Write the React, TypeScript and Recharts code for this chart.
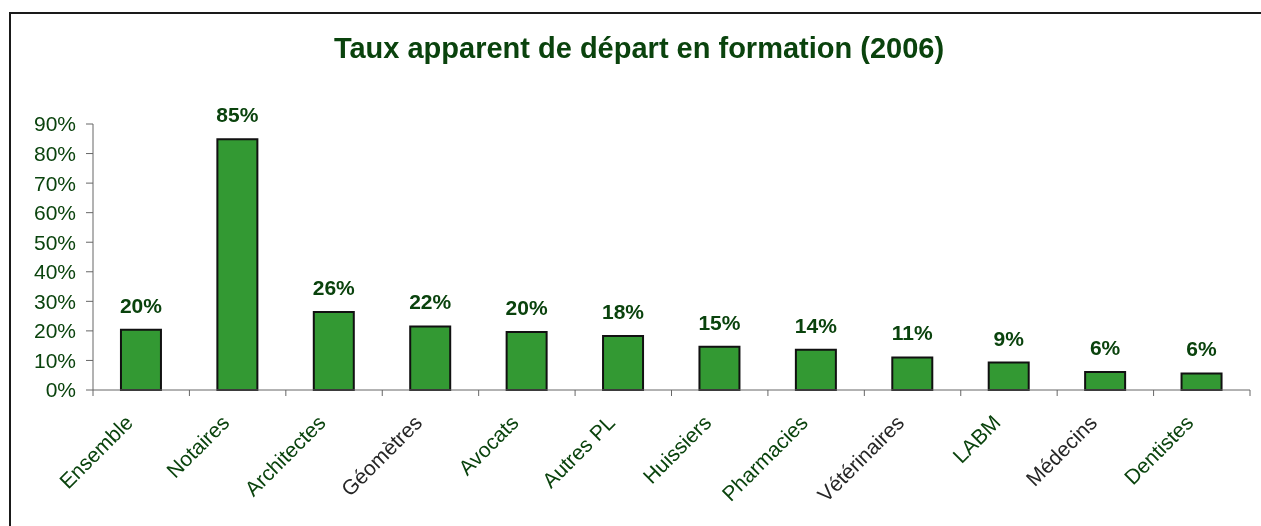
import { Bar, BarChart, LabelList, XAxis, YAxis } from "recharts";

const CATEGORIES = [
  "Ensemble",
  "Notaires",
  "Architectes",
  "Géomètres",
  "Avocats",
  "Autres PL",
  "Huissiers",
  "Pharmacies",
  "Vétérinaires",
  "LABM",
  "Médecins",
  "Dentistes",
];

// taux en %
const TAUX = [20.4, 84.8, 26.4, 21.5, 19.6, 18.3, 14.6, 13.6, 11.0, 9.3, 6.1, 5.6];

const Y_TICKS = [0, 10, 20, 30, 40, 50, 60, 70, 80, 90];

const TITLE = "Taux apparent de départ en formation (2006)";

const GREEN_TEXT = "#0a430d";
const GREY_TEXT = "#262626";
const BAR_FILL = "#339933";
const AXIS = "#666";
const FONT = '"Liberation Sans", Arial, sans-serif';

// these labels are drawn in dark grey in the original, not green
const GREY_LABELS = new Set(["Géomètres", "Vétérinaires", "Médecins"]);

const data = CATEGORIES.map((name, i) => ({ name, taux: TAUX[i] }));

// category label + Excel-style tick marks between the categories
function CatTick(props: any) {
  const { x, y, payload, index } = props;
  const label = String(payload.value);
  const half = payload.offset ?? 48;
  const isLast = index === CATEGORIES.length - 1;
  return (
    <g>
      <line x1={x - half} x2={x - half} y1={y} y2={y + 6} stroke={AXIS} />
      {isLast && <line x1={x + half} x2={x + half} y1={y} y2={y + 6} stroke={AXIS} />}
      <g transform={`translate(${x - 7},${y + 34}) rotate(-45)`}>
        <text
          x={0}
          y={0}
          textAnchor="end"
          fontSize={21}
          fontFamily={FONT}
          fill={GREY_LABELS.has(label) ? GREY_TEXT : GREEN_TEXT}
        >
          {label}
        </text>
      </g>
    </g>
  );
}

export default function App() {
  return (
    <div style={{ position: "relative", width: 1245, height: 510, fontFamily: FONT }}>
      {/* chart frame: only its top and left edges are inside the picture */}
      <div
        style={{
          position: "fixed",
          left: 9,
          top: 12,
          right: -40,
          bottom: -40,
          borderLeft: "2px solid #1a1a1a",
          borderTop: "2px solid #1a1a1a",
          pointerEvents: "none",
        }}
      />
      <div
        style={{
          position: "absolute",
          left: 31,
          width: 1200,
          top: 26,
          textAlign: "center",
          fontSize: 29,
          lineHeight: "29px",
          fontWeight: "bold",
          color: GREEN_TEXT,
          whiteSpace: "nowrap",
        }}
      >
        {TITLE}
      </div>
      <BarChart
        width={1253}
        height={510}
        data={data}
        margin={{ top: 116, right: 11, left: 0, bottom: 6 }}
        barCategoryGap="29%"
      >
        <XAxis
          dataKey="name"
          interval={0}
          height={122}
          tickSize={0}
          tickMargin={0}
          tickLine={false}
          axisLine={{ stroke: AXIS }}
          tick={<CatTick />}
        />
        <YAxis
          width={85}
          domain={[0, 90]}
          ticks={Y_TICKS}
          interval={0}
          tickFormatter={(v: number) => `${v}%`}
          tick={{ fill: GREEN_TEXT, fontSize: 21, fontFamily: FONT }}
          tickSize={7}
          tickMargin={10}
          axisLine={{ stroke: AXIS }}
          tickLine={{ stroke: AXIS }}
        />
        <Bar
          dataKey="taux"
          fill={BAR_FILL}
          stroke="#111"
          strokeWidth={2}
          isAnimationActive={false}
        >
          <LabelList
            dataKey="taux"
            position="top"
            offset={17}
            formatter={(v: any) => `${Math.round(Number(v))}%`}
            fill={GREEN_TEXT}
            fontSize={21}
            fontWeight="bold"
            fontFamily={FONT}
          />
        </Bar>
      </BarChart>
    </div>
  );
}
